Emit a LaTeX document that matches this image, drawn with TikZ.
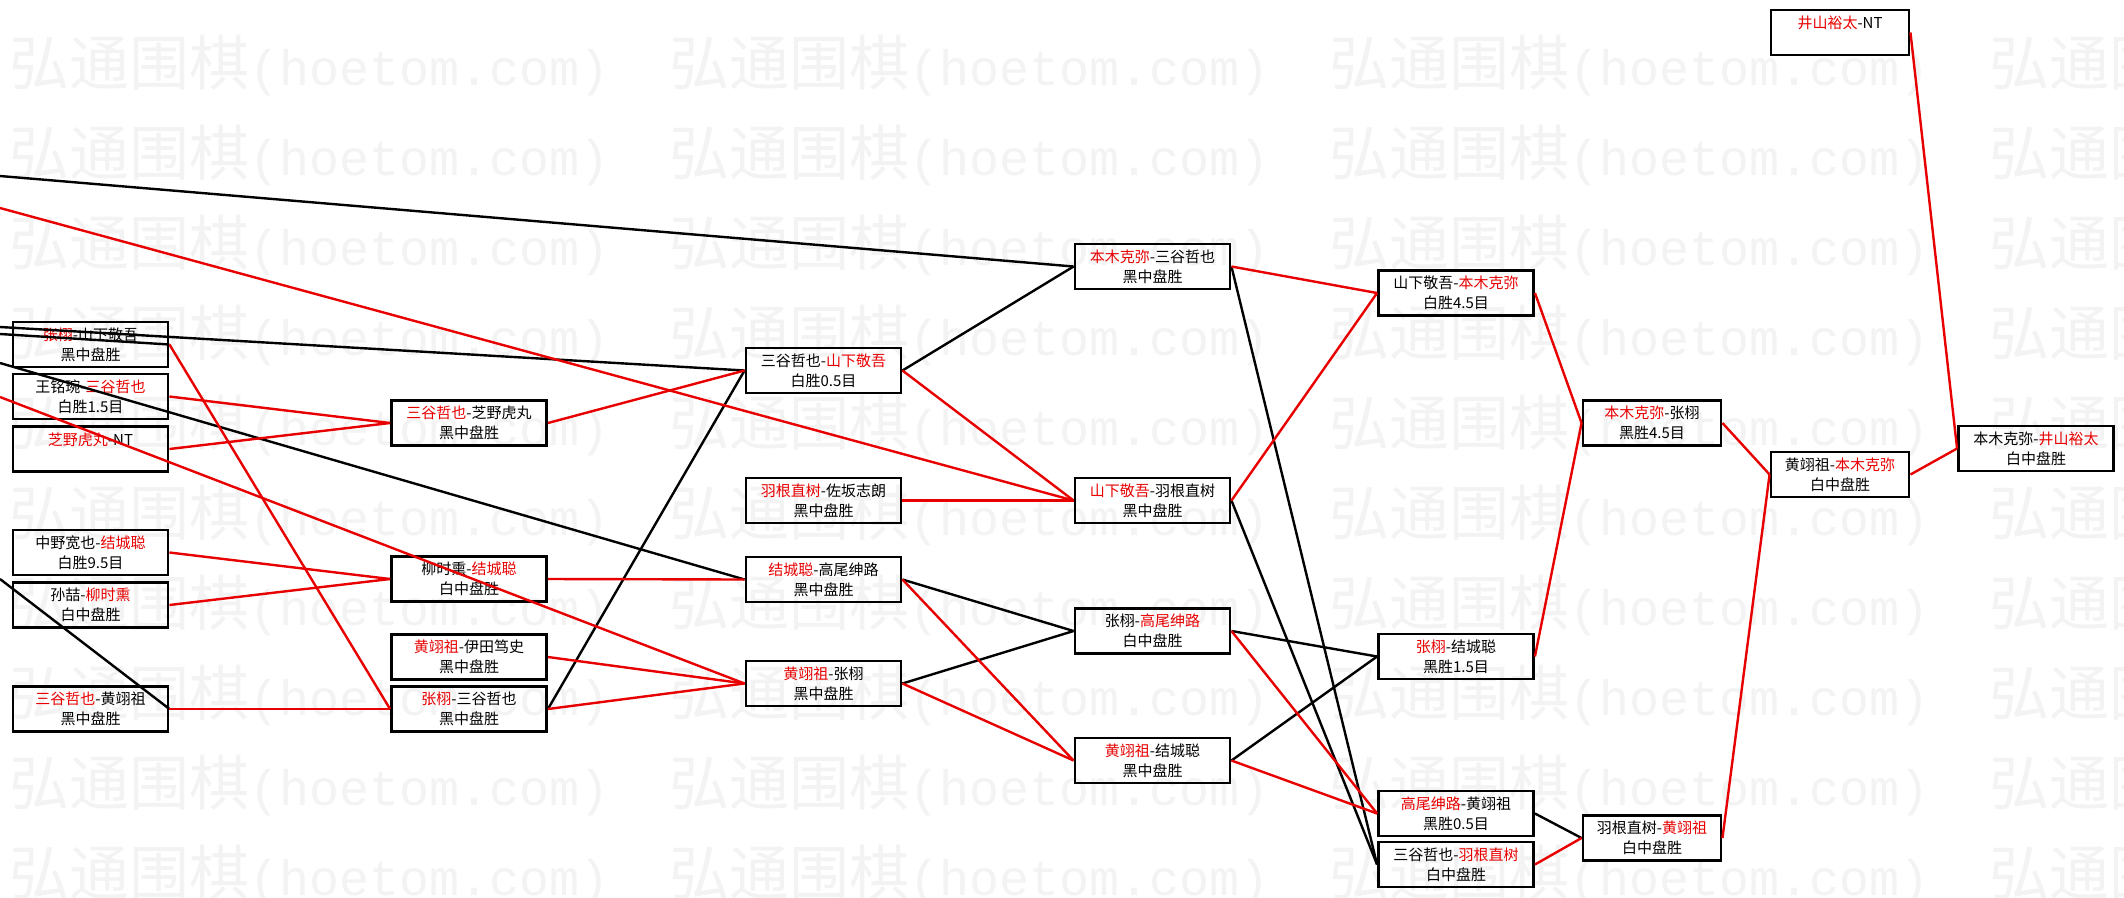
\documentclass[tikz,border=0pt]{standalone}
\usepackage{fontspec}
\newfontfamily\cjk{Noto Sans CJK SC}
\newfontfamily\wmmono{Liberation Mono}
\definecolor{wr}{RGB}{232,0,0}
\definecolor{wm}{RGB}{243,243,243}
\newcommand{\rd}[1]{\textcolor{wr}{#1}}
\tikzset{
  box/.style={draw=black, line width=2.9pt, minimum width=155pt, minimum height=45pt,
    inner sep=0pt, align=center, font=\cjk\fontsize{15}{20}\selectfont},
  nbox/.style={box, minimum width=138pt},
  lose/.style={draw=black, line width=2.4pt},
  win/.style={draw=wr, line width=2.4pt},
  wmark/.style={anchor=west, inner sep=0pt, text=wm}
}
\begin{document}
\begin{tikzpicture}[x=1pt,y=-1pt]
\useasboundingbox (0,0) rectangle (2124,897);
\fill[white] (0,0) rectangle (2124,897);
% watermark
\begin{scope}
\clip (0,0) rectangle (2124,897);
\foreach \r in {0,...,9}{
  \foreach \c in {0,...,3}{
    \node[wmark] (wm-\r-\c) at (9+660*\c, 65+90*\r)
      {{\cjk\fontsize{60}{60}\selectfont 弘通围棋}{\wmmono\fontsize{50}{50}\selectfont(hoetom.com)}};
  }
}
\end{scope}
% column 1
\node[box] (A) at (90.5,344.5) {\rd{张栩}-山下敬吾\\黑中盘胜};
\node[box] (B) at (90.5,396.5) {王铭琬-\rd{三谷哲也}\\白胜1.5目};
\node[box] (C) at (90.5,449) {\rd{芝野虎丸}-NT\\\mbox{}};
\node[box] (D) at (90.5,552.5) {中野宽也-\rd{结城聪}\\白胜9.5目};
\node[box] (E) at (90.5,605) {孙喆-\rd{柳时熏}\\白中盘胜};
\node[box] (F) at (90.5,709) {\rd{三谷哲也}-黄翊祖\\黑中盘胜};
% column 2
\node[box] (G) at (469,423) {\rd{三谷哲也}-芝野虎丸\\黑中盘胜};
\node[box] (H) at (469,579) {柳时熏-\rd{结城聪}\\白中盘胜};
\node[box] (I) at (469,657) {\rd{黄翊祖}-伊田笃史\\黑中盘胜};
\node[box] (J) at (469,709) {\rd{张栩}-三谷哲也\\黑中盘胜};
% column 3
\node[box] (K) at (823.5,370.5) {三谷哲也-\rd{山下敬吾}\\白胜0.5目};
\node[box] (L) at (823.5,500.5) {\rd{羽根直树}-佐坂志朗\\黑中盘胜};
\node[box] (M) at (823.5,579.5) {\rd{结城聪}-高尾绅路\\黑中盘胜};
\node[box] (N) at (823.5,683.5) {\rd{黄翊祖}-张栩\\黑中盘胜};
% column 4
\node[box] (O) at (1152.5,266.5) {\rd{本木克弥}-三谷哲也\\黑中盘胜};
\node[box] (P) at (1152.5,500.5) {\rd{山下敬吾}-羽根直树\\黑中盘胜};
\node[box] (Q) at (1152.5,631) {张栩-\rd{高尾绅路}\\白中盘胜};
\node[box] (R) at (1152.5,760.5) {\rd{黄翊祖}-结城聪\\黑中盘胜};
% column 5
\node[box] (V) at (1456,293) {山下敬吾-\rd{本木克弥}\\白胜4.5目};
\node[box] (S) at (1456,656.5) {\rd{张栩}-结城聪\\黑胜1.5目};
\node[box] (T) at (1456,813.5) {\rd{高尾绅路}-黄翊祖\\黑胜0.5目};
\node[box] (U) at (1456,864.5) {三谷哲也-\rd{羽根直树}\\白中盘胜};
% column 6
\node[nbox] (W) at (1652,423) {\rd{本木克弥}-张栩\\黑胜4.5目};
\node[nbox] (X) at (1652,838) {羽根直树-\rd{黄翊祖}\\白中盘胜};
% column 7
\node[nbox] (Y) at (1840,474.5) {黄翊祖-\rd{本木克弥}\\白中盘胜};
\node[nbox] (AA) at (1840,32.5) {\rd{井山裕太}-NT\\\mbox{}};
% column 8
\node[box] (Z) at (2036,448.5) {本木克弥-\rd{井山裕太}\\白中盘胜};
% free ends at the left edge
\coordinate (l1) at (0,176);
\coordinate (l2) at (0,327);
\coordinate (l3) at (0,334);
\coordinate (l4) at (0,363);
\coordinate (l5) at (0,579);
\coordinate (r1) at (0,208);
\coordinate (r2) at (0,397);
% loser paths
\draw[lose] (l1) -- (O.west);
\draw[lose] (l2) -- (K.west);
\draw[lose] (l3) -- (A.east);
\draw[lose] (l4) -- (M.west);
\draw[lose] (l5) -- (F.east);
\draw[lose] (J.east) -- (K.west);
\draw[lose] (K.east) -- (O.west);
\draw[lose] (M.east) -- (Q.west);
\draw[lose] (N.east) -- (Q.west);
\draw[lose] (O.east) -- (U.west);
\draw[lose] (P.east) -- (U.west);
\draw[lose] (Q.east) -- (S.west);
\draw[lose] (R.east) -- (S.west);
\draw[lose] (T.east) -- (X.west);
% winner paths
\draw[win] (r1) -- (P.west);
\draw[win] (r2) -- (N.west);
\draw[win] (A.east) -- (J.west);
\draw[win] (B.east) -- (G.west);
\draw[win] (C.east) -- (G.west);
\draw[win] (D.east) -- (H.west);
\draw[win] (E.east) -- (H.west);
\draw[win] (F.east) -- (J.west);
\draw[win] (G.east) -- (K.west);
\draw[win] (H.east) -- (M.west);
\draw[win] (I.east) -- (N.west);
\draw[win] (J.east) -- (N.west);
\draw[win] (K.east) -- (P.west);
\draw[win] (L.east) -- (P.west);
\draw[win] (M.east) -- (R.west);
\draw[win] (N.east) -- (R.west);
\draw[win] (O.east) -- (V.west);
\draw[win] (P.east) -- (V.west);
\draw[win] (Q.east) -- (T.west);
\draw[win] (R.east) -- (T.west);
\draw[win] (V.east) -- (W.west);
\draw[win] (S.east) -- (W.west);
\draw[win] (U.east) -- (X.west);
\draw[win] (W.east) -- (Y.west);
\draw[win] (X.east) -- (Y.west);
\draw[win] (Y.east) -- (Z.west);
\draw[win] (AA.east) -- (Z.west);
\end{tikzpicture}
\end{document}
